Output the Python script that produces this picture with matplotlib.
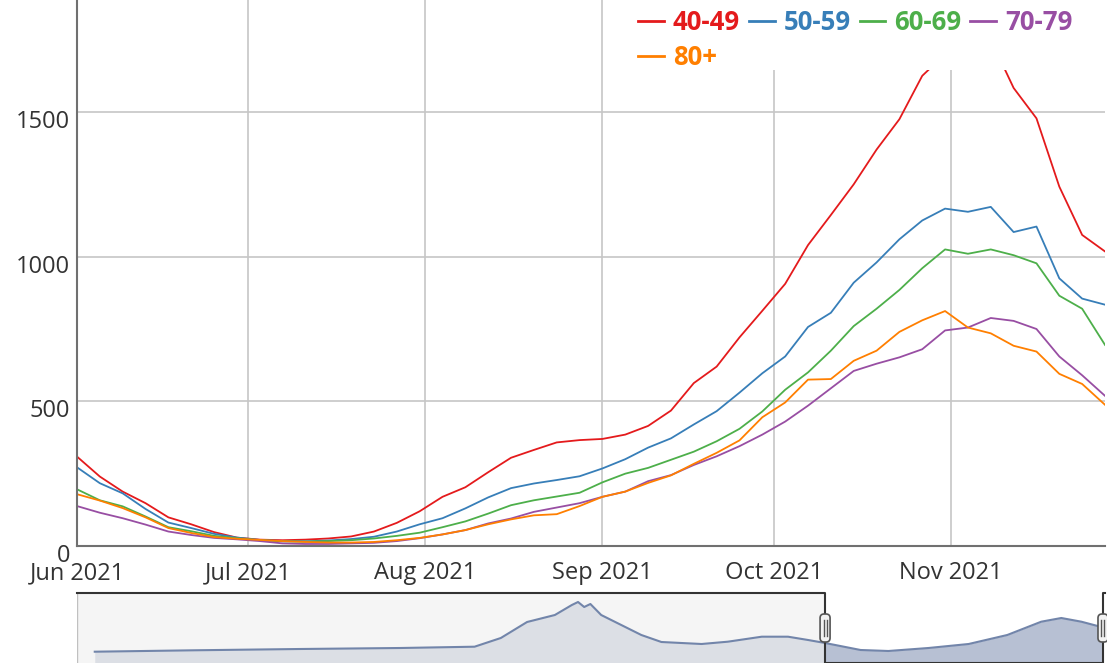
import numpy as np
import pandas as pd
import matplotlib
matplotlib.use('Agg')
import matplotlib.pyplot as plt
import matplotlib.dates as mdates
from matplotlib.lines import Line2D
from matplotlib.patches import Rectangle, FancyBboxPatch
from matplotlib.transforms import ScaledTranslation, IdentityTransform

plt.rcParams['font.family'] = ['Open Sans', 'DejaVu Sans']

# daily values, read every 4 days from 1 Jun 2021
dates = pd.date_range('2021-06-01', '2021-11-28', freq='4D')

age_40_49 = [309, 240, 188, 148, 99, 75, 48, 29, 22, 20,
             22, 26, 33, 50, 80, 120, 170, 203, 255, 305,
             332, 358, 366, 370, 385, 415, 468, 563, 620, 721,
             813, 906, 1040, 1144, 1250, 1370, 1475, 1625, 1700, 1760,
             1750, 1583, 1478, 1242, 1075, 1018]
age_50_59 = [272, 217, 182, 128, 81, 62, 42, 29, 21, 17,
             16, 19, 24, 32, 50, 75, 96, 130, 168, 200,
             216, 228, 241, 268, 300, 340, 372, 420, 466, 530,
             597, 655, 757, 806, 910, 980, 1060, 1125, 1166, 1155,
             1172, 1085, 1104, 925, 855, 834]
age_60_69 = [196, 158, 137, 102, 65, 51, 35, 27, 20, 16,
             15, 17, 20, 26, 35, 46, 65, 85, 112, 141,
             158, 171, 184, 220, 250, 270, 298, 326, 362, 405,
             465, 540, 600, 675, 760, 820, 885, 960, 1025, 1010,
             1025, 1005, 977, 865, 820, 695]
age_70_79 = [138, 115, 96, 74, 50, 38, 28, 23, 17, 9,
             7, 7, 9, 11, 17, 27, 40, 55, 78, 95,
             118, 133, 148, 170, 188, 224, 245, 280, 310, 345,
             385, 430, 485, 545, 605, 630, 652, 680, 745, 755,
             788, 778, 750, 655, 590, 519]
age_80 = [179, 157, 131, 99, 62, 45, 31, 25, 21, 17,
          14, 12, 12, 14, 20, 28, 40, 55, 75, 92,
          106, 110, 138, 170, 188, 218, 244, 284, 322, 365,
          445, 496, 575, 577, 640, 675, 740, 780, 812, 755,
          735, 692, 672, 595, 560, 488]

labels = ['40-49', '50-59', '60-69', '70-79', '80+']
colors = ['#e41a1c', '#377eb8', '#4daf4a', '#984ea3', '#ff7f00']

# navigator series (full history), arbitrary units
nav_dates = pd.to_datetime([
    '2020-02-14', '2020-04-18', '2020-06-26', '2020-08-30', '2020-10-17',
    '2020-11-03', '2020-11-20', '2020-12-08', '2020-12-19', '2020-12-23',
    '2020-12-27', '2020-12-31', '2021-01-07', '2021-01-20', '2021-02-02',
    '2021-02-15', '2021-03-13', '2021-03-30', '2021-04-21', '2021-05-08',
    '2021-05-21', '2021-06-01', '2021-06-24', '2021-07-12', '2021-08-07',
    '2021-09-02', '2021-09-27', '2021-10-19', '2021-11-01', '2021-11-14',
    '2021-11-27'])
nav_vals = [11.3, 12.7, 14, 15, 16.3,
            25, 41, 48, 58, 61,
            56, 59, 48, 38, 28,
            21, 19, 21.3, 26.3, 26.3,
            23, 20, 13, 12, 15,
            19, 28, 41.3, 45, 41.3,
            36]

W, H = 1107, 663
fig = plt.figure(figsize=(W / 100, H / 100), dpi=100)
ax = fig.add_axes([77 / W, 1 - 546 / H, 1028 / W, 546 / H])
nav = fig.add_axes([77 / W, 0, 1028 / W, 71 / H])

series = [age_40_49, age_50_59, age_60_69, age_70_79, age_80]
handles = []
for vals, lab, col in zip(series, labels, colors):
    ax.plot(dates, vals, color=col, lw=1.3, label=lab, solid_joinstyle='round')
    handles.append(Line2D([], [], color=col, lw=2))

ax.set_xlim(dates[0], dates[-1])
ax.set_ylim(0, 1887)
ax.set_yticks([0, 500, 1000, 1500])
ax.xaxis.set_major_locator(mdates.MonthLocator())
ax.xaxis.set_major_formatter(mdates.DateFormatter('%b %Y'))
ax.grid(True, color='#c6c6c6', lw=1.2)
ax.set_axisbelow(True)
for s in ['top', 'right']:
    ax.spines[s].set_visible(False)
for s in ['left', 'bottom']:
    ax.spines[s].set_color('#707070')
    ax.spines[s].set_linewidth(1.5)
ax.tick_params(length=0, labelsize=17, colors='#333333')
ax.tick_params(axis='x', pad=11)
ax.tick_params(axis='y', pad=5)
off = ScaledTranslation(0, -5 / 72, fig.dpi_scale_trans)
for t in ax.get_yticklabels():
    t.set_transform(t.get_transform() + off)

# white box behind the legend hides the top of the lines
fig.add_artist(Rectangle((625 / W, 1 - 70 / H), 482 / W, 70 / H,
                         transform=fig.transFigure, facecolor='white',
                         edgecolor='none', zorder=3))
order = [0, 4, 1, 2, 3]
fig.legend([handles[i] for i in order], [labels[i] for i in order],
           loc='upper left', bbox_to_anchor=(638 / W, 1 - 9 / H), ncol=4,
           frameon=False, prop=dict(weight='bold', size=18.5),
           labelcolor='linecolor', handlelength=1.0, handletextpad=0.35,
           columnspacing=0.35, borderaxespad=0, borderpad=0,
           labelspacing=0.3)

# navigator
x0 = mdates.date2num(dates[0])
x1 = mdates.date2num(dates[-1])
nx0, nx1 = x0 - 484.5, x1 + 1.3
nav.fill_between(nav_dates, nav_vals, 0, color='#b7c0d3', lw=0)
nav.plot(nav_dates, nav_vals, color='#7285aa', lw=1.5)
nav.set_xlim(nx0, nx1)
nav.set_ylim(0, 71)
nav.axis('off')
nav.axvspan(nx0, x0, color='#f0f0f0', alpha=0.65, lw=0)
nav.plot([nx0, nx0], [0, 71], color='#c0c0c0', lw=1)
nav.plot([nx0, x0, x0, x1, x1, nx1], [70.4, 70.4, 0, 0, 70.4, 70.4],
         color='#333333', lw=1.5, clip_on=False)
for xv in [x0, x1]:
    px = nav.transData.transform((xv, 0))[0]
    fig.add_artist(FancyBboxPatch((px - 5, H - 642), 10, 28,
                                  boxstyle='round,pad=0,rounding_size=4',
                                  transform=IdentityTransform(),
                                  facecolor='#f2f2f2', edgecolor='#555555',
                                  lw=1.2, zorder=4))
    for dx in (-1.5, 1.5):
        fig.add_artist(Line2D([px + dx, px + dx], [H - 636, H - 620],
                              transform=IdentityTransform(),
                              color='#555555', lw=1, zorder=5))

fig.savefig('out.png', dpi=100)
